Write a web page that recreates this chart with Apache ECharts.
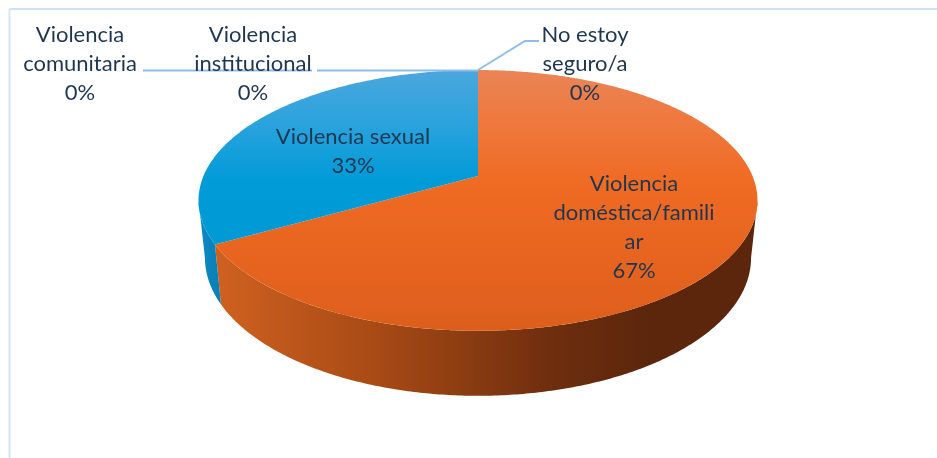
<!DOCTYPE html>
<html>
<head>
<meta charset="utf-8">
<style>html,body{margin:0;padding:0;background:#fff}#c{width:937px;height:458px}</style>
<script src="https://cdn.jsdelivr.net/npm/echarts@6/dist/echarts.min.js"></script>
</head>
<body>
<div id="c"></div>
<script>
// Data
var categories = ['Violencia doméstica/familiar', 'Violencia sexual', 'Violencia comunitaria', 'Violencia institucional', 'No estoy seguro/a'];
var values = [67, 33, 0, 0, 0];
var labelLines = ['Violencia\ndoméstica/famili\nar', 'Violencia sexual', 'Violencia\ncomunitaria', 'Violencia\ninstitucional', 'No estoy\nseguro/a'];

// Layout
var labelPos = [[634, 227], [353, 151.5], [80, 64], [253, 64], [585, 64]];
var leaders = [null, null, [[143, 70.5], [312, 70.5]], [[317, 70.5], [478, 70.5]], [[478, 70], [525, 41], [539, 41]]];
var topColors = [
  [[0, '#ea8457'], [0.16, '#ee7b42'], [0.42, '#f06b24'], [1, '#dd5e1b']],
  [[0, '#4ca7dd'], [0.2, '#2ba3dd'], [0.42, '#019bd8'], [1, '#0098d0']]
];
var wallColors = [
  { x0: 216, x1: 757, stops: [[0, '#cf6120'], [0.3, '#a74a15'], [0.62, '#6f2e0e'], [0.8, '#5c260c'], [1, '#5c260c']] },
  { x0: 198, x1: 222, stops: [[0, '#0b8bc4'], [1, '#0a7db2']] }
];
var total = values.reduce(function (a, b) { return a + b; }, 0);

// Perspective of the disc: fitted so the rim and hub land where the picture has them
var CX = 478, K = 275.3, C = 0.172, A = -95.9, B = 178, HUB_Y = 176;
function rim(t) {
  var u = Math.sin(t), v = Math.cos(t), w = 1 + C * v;
  return [CX + K * u / w, (A * v + B) / w];
}
function lower(p) {
  return [CX + (p[0] - CX) * 0.977, 258 + (p[1] - 200.5) * 138 / 130.5];
}
function grad(x0, y0, x1, y1, stops) {
  return {
    type: 'linear', global: true, x: x0, y: y0, x2: x1, y2: y1,
    colorStops: stops.map(function (s) { return { offset: s[0], color: s[1] }; })
  };
}
var wallFrom = Math.acos(-C), wallTo = 2 * Math.PI - wallFrom;

function renderItem(params, api) {
  var i = params.dataIndex, val = api.value(0), before = 0;
  for (var n = 0; n < i; n++) before += values[n];
  var a0 = before / total * 2 * Math.PI, a1 = (before + val) / total * 2 * Math.PI;
  var children = [], k, steps, pts;
  if (val > 0) {
    var w0 = Math.max(a0, wallFrom), w1 = Math.min(a1, wallTo);
    if (w1 > w0) {
      steps = Math.ceil((w1 - w0) / 0.01);
      var up = [], dn = [];
      for (k = 0; k <= steps; k++) {
        var p = rim(w0 + (w1 - w0) * k / steps);
        up.push(p); dn.unshift(lower(p));
      }
      var wc = wallColors[i];
      children.push({ type: 'polygon', z2: 1, shape: { points: up.concat(dn) },
        style: { fill: grad(wc.x0, 0, wc.x1, 0, wc.stops) } });
    }
    steps = Math.ceil((a1 - a0) / 0.01);
    pts = [[CX, HUB_Y]];
    for (k = 0; k <= steps; k++) pts.push(rim(a0 + (a1 - a0) * k / steps));
    children.push({ type: 'polygon', z2: 2, shape: { points: pts },
      style: { fill: grad(0, 70, 0, 331, topColors[i]) } });
  }
  if (leaders[i]) {
    children.push({ type: 'polyline', z2: 3, shape: { points: leaders[i] },
      style: { stroke: '#8fbde9', lineWidth: 2, fill: 'none' } });
  }
  children.push({ type: 'text', z2: 4, x: labelPos[i][0], y: labelPos[i][1], style: {
    text: labelLines[i] + '\n' + Math.round(val / total * 100) + '%',
    fill: '#1f3650', fontFamily: 'Lato', fontSize: 22, lineHeight: 29,
    align: 'center', verticalAlign: 'middle'
  } });
  return { type: 'group', children: children };
}

var chart = echarts.init(document.getElementById('c'), null, { renderer: 'canvas' });
chart.setOption({
  animation: false,
  backgroundColor: '#ffffff',
  graphic: [
    { type: 'line', silent: true, shape: { x1: 9.5, y1: 9, x2: 937, y2: 9 }, style: { stroke: '#cfe1f5', lineWidth: 2 } },
    { type: 'line', silent: true, shape: { x1: 9.5, y1: 9, x2: 9.5, y2: 458 }, style: { stroke: '#d6e5f6', lineWidth: 2 } }
  ],
  series: [{
    type: 'custom',
    coordinateSystem: 'none',
    silent: true,
    renderItem: renderItem,
    data: values.map(function (v, i) { return { name: categories[i], value: [v] }; })
  }]
});
</script>
</body>
</html>
